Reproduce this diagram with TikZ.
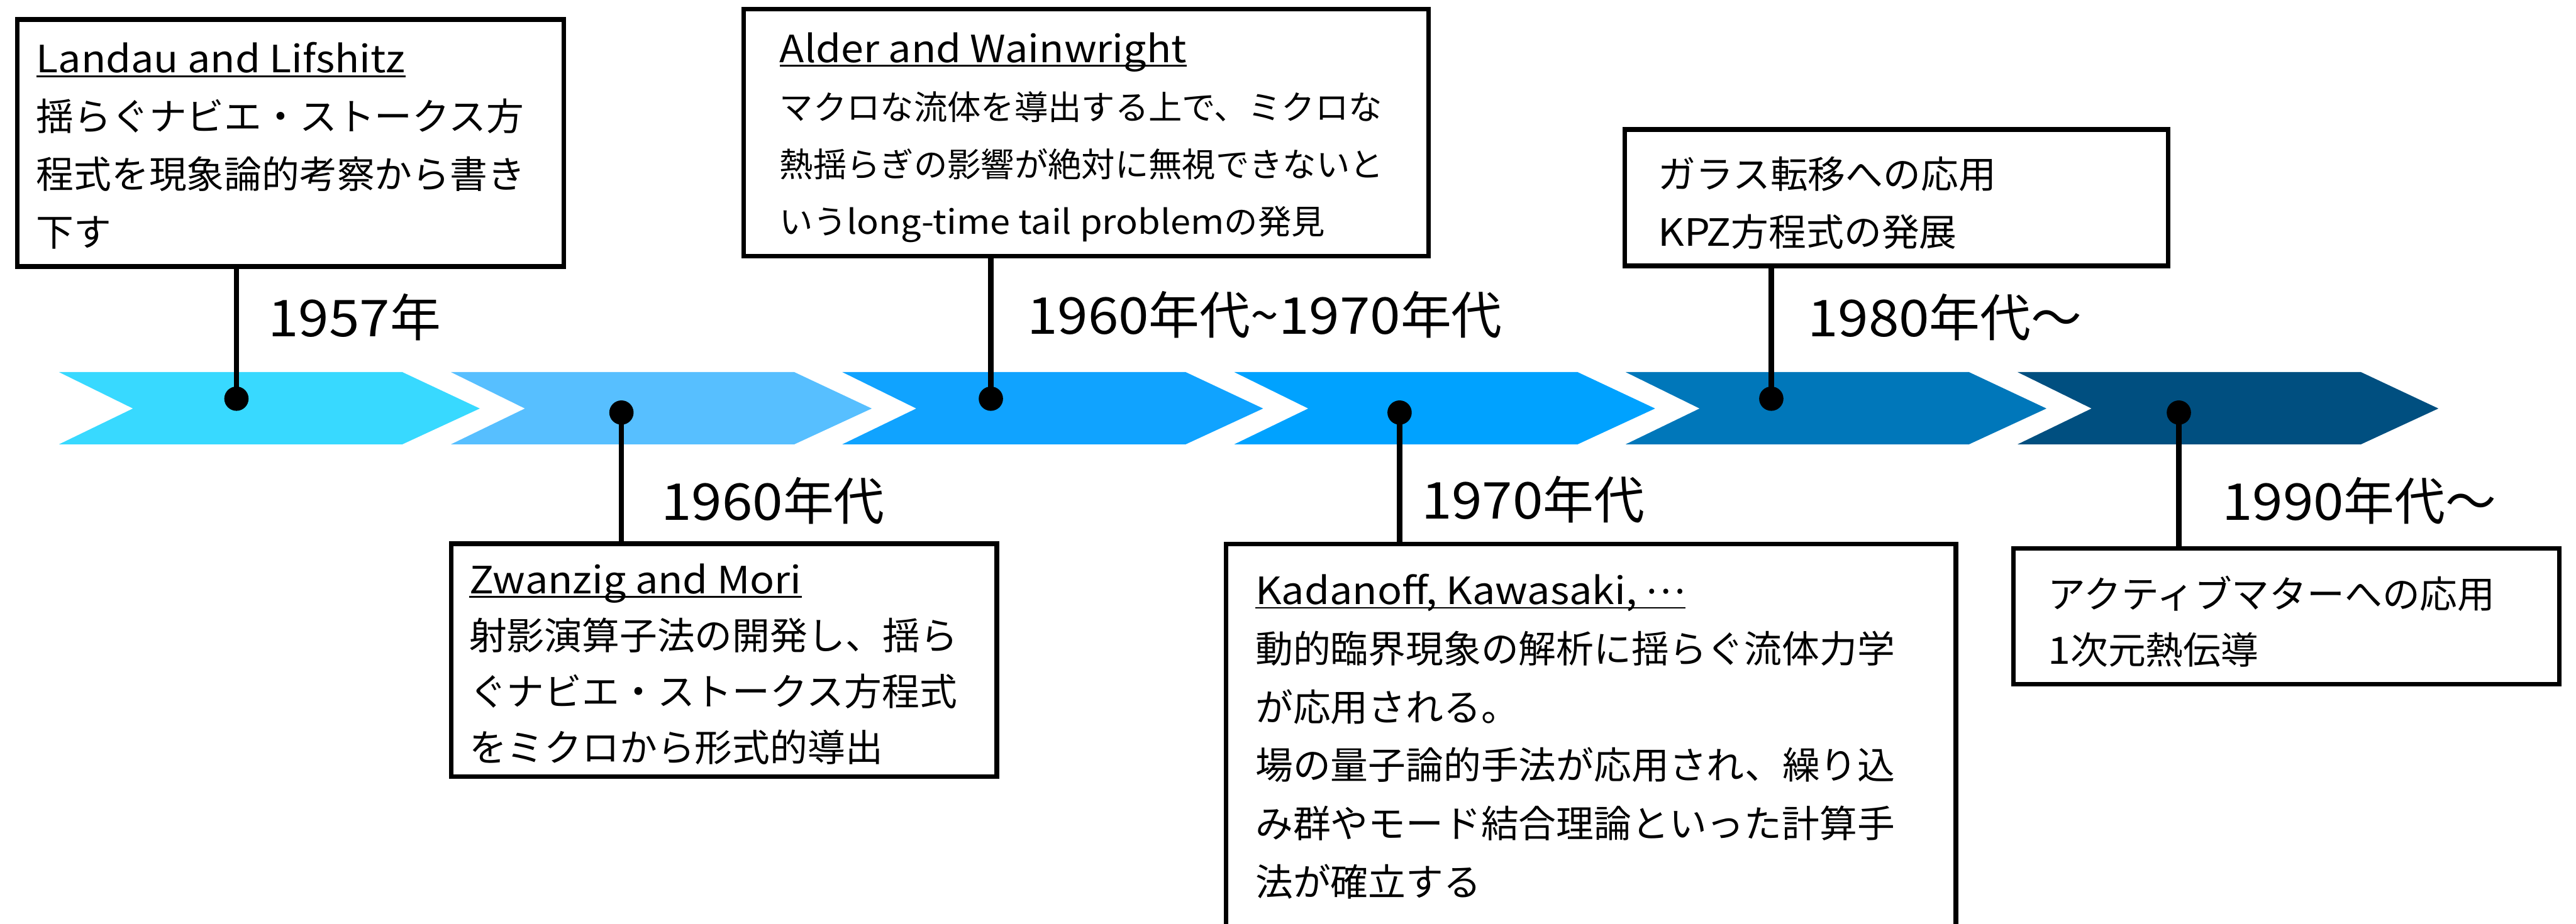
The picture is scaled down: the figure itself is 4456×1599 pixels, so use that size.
\documentclass[tikz,border=0pt]{standalone}
\usepackage{fontspec}
\setmainfont{Noto Sans CJK JP}
\newfontfamily\latw{Noto Sans CJK JP}[FakeStretch=1.08]
\definecolor{cA}{HTML}{38D9FF}
\definecolor{cB}{HTML}{57BFFF}
\definecolor{cC}{HTML}{10A3FF}
\definecolor{cD}{HTML}{00A2FF}
\definecolor{cE}{HTML}{0077BA}
\definecolor{cF}{HTML}{004F80}
\newcommand{\ulx}[1]{\setbox0\hbox{#1}\rlap{\rule[-0.075cm]{\wd0}{0.03cm}}\box0}
\newcommand{\rows}[1]{\vtop{\halign{##\hfil\cr#1\crcr}}}
\newcommand{\chev}[2]{\fill[#2] (#1,644) -- ++(594,0) -- ++(134,63) -- ++(-134,62) -- ++(-594,0) -- ++(128,-62) -- cycle;}
\begin{document}
\begin{tikzpicture}[x=0.01cm,y=-0.01cm,
  evbox/.style={draw=black, line width=0.08cm, fill=white, rectangle, inner sep=0pt},
  txt/.style={inner sep=0pt, anchor=base west, font=\fontsize{18.5pt}{28.45pt}\selectfont},
  yearlbl/.style={inner sep=0pt, anchor=base west, font=\fontsize{25pt}{30pt}\selectfont},
  tdot/.style={circle, fill=black, inner sep=0pt, minimum size=0.42cm},
  stemline/.style={line width=0.09cm}]
\useasboundingbox (0,0) rectangle (4456,1599);
\clip (0,0) rectangle (4456,1599);
% chevrons
\chev{102}{cA}
\chev{780}{cB}
\chev{1457}{cC}
\chev{2135}{cD}
\chev{2812}{cE}
\chev{3490}{cF}
% boxes
\node[evbox, minimum width=9.45cm, minimum height=4.27cm] (landau) at (502.5,247.5) {};
\node[evbox, minimum width=11.84cm, minimum height=4.27cm] (alder) at (1879,229.5) {};
\node[evbox, minimum width=9.39cm, minimum height=2.36cm] (glass) at (3280.5,342) {};
\node[evbox, minimum width=9.43cm, minimum height=4.03cm] (zwanzig) at (1252.5,1142.5) {};
\node[evbox, minimum width=12.62cm, minimum height=7.58cm] (kadanoff) at (2752,1321) {};
\node[evbox, minimum width=9.44cm, minimum height=2.35cm] (active) at (3955,1066.5) {};
% dots
\node[tdot] (d1) at (409,690) {};
\node[tdot] (d2) at (1075,714) {};
\node[tdot] (d3) at (1714,690) {};
\node[tdot] (d4) at (2421,714) {};
\node[tdot] (d5) at (3064,690) {};
\node[tdot] (d6) at (3769,714) {};
% stems
\draw[stemline] (landau.south -| d1.center) -- (d1.center);
\draw[stemline] (d2.center) -- (zwanzig.north -| d2.center);
\draw[stemline] (alder.south -| d3.center) -- (d3.center);
\draw[stemline] (d4.center) -- (kadanoff.north -| d4.center);
\draw[stemline] (glass.south -| d5.center) -- (d5.center);
\draw[stemline] (d6.center) -- (active.north -| d6.center);
% year labels
\node[yearlbl] (y1) at (463,583) {{\latw 1957}年};
\node[yearlbl] (y2) at (1143,900) {{\latw 1960}年代};
\node[yearlbl] (y3) at (1776,578) {{\latw 1960}年代{\char"7E}{\latw 1970}年代};
\node[yearlbl] (y4) at (2458,898) {{\latw 1970}年代};
\node[yearlbl] (y5) at (3126,583) {{\latw 1980}年代〜};
\node[yearlbl] (y6) at (3843,900) {{\latw 1990}年代〜};
% texts
\node[txt] (landau-t) at (62,126) {\rows{\ulx{\latw Landau and Lifshitz}\cr
揺らぐナビエ・ストークス方\cr
程式を現象論的考察から書き\cr
下す}};
\node[txt, font=\fontsize{16.5pt}{28.2pt}\selectfont] (alder-t) at (1348,108) {\rows{\ulx{\fontsize{18.5pt}{28.2pt}\latw Alder and Wainwright}\cr
マクロな流体を導出する上で、ミクロな\cr
熱揺らぎの影響が絶対に無視できないと\cr
いう{\latw long-time tail problem}の発見}};
\node[txt] (glass-t) at (2868,326) {\rows{ガラス転移への応用\cr
{\latw KPZ}方程式の発展}};
\node[txt, font=\fontsize{18.5pt}{27.6pt}\selectfont] (zwanzig-t) at (811,1027) {\rows{\ulx{\latw Zwanzig and Mori}\cr
射影演算子法の開発し、揺ら\cr
ぐナビエ・ストークス方程式\cr
をミクロから形式的導出}};
\node[txt, font=\fontsize{18.5pt}{28.7pt}\selectfont] (kadanoff-t) at (2171,1046) {\rows{\ulx{{\latw Kadanoff, Kawasaki,} \raisebox{0.28em}{…}}\cr
動的臨界現象の解析に揺らぐ流体力学\cr
が応用される。\cr
場の量子論的手法が応用され、繰り込\cr
み群やモード結合理論といった計算手\cr
法が確立する}};
\node[txt, font=\fontsize{18.5pt}{27.3pt}\selectfont] (active-t) at (3542,1053) {\rows{アクティブマターへの応用\cr
{\latw 1}次元熱伝導}};
\end{tikzpicture}
\end{document}
